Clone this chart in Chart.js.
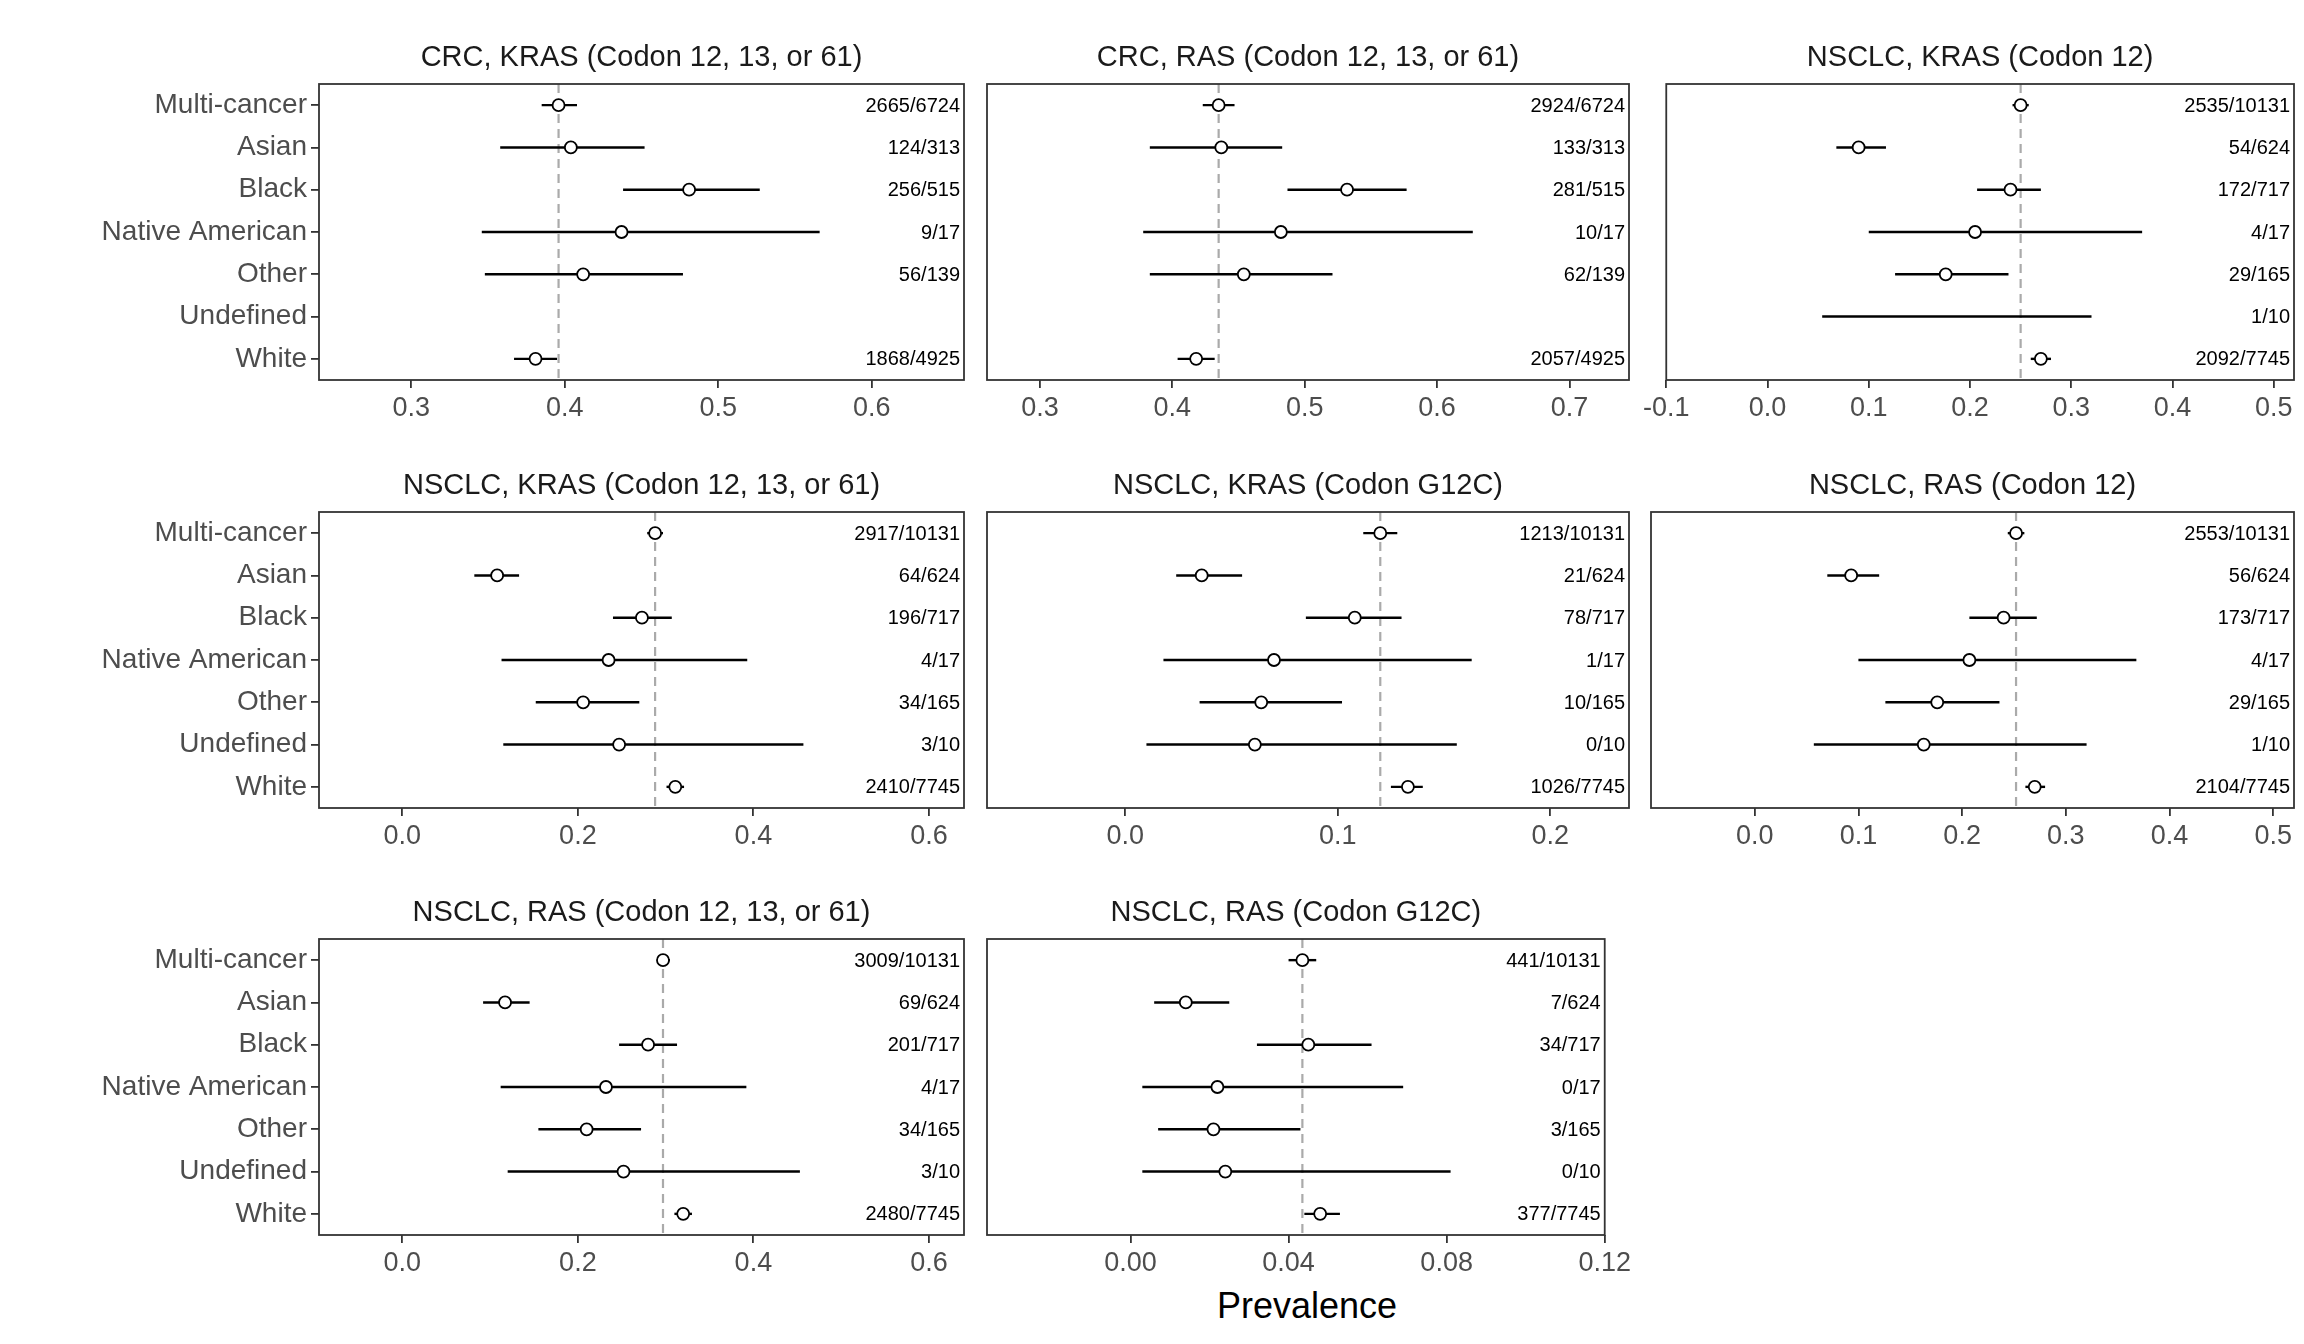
<!DOCTYPE html>
<html>
<head>
<meta charset="UTF-8">
<script src="https://cdn.jsdelivr.net/npm/chart.js@4"></script>
<style>
  body { margin:0; background:#fff; width:2304px; height:1344px; position:relative; font-family:"Liberation Sans", Arial, sans-serif; }
  .box { position:absolute; }
  #xlab { position:absolute; left:1207px; top:1285px; width:200px; text-align:center; font-size:36px; color:#000; }
</style>
</head>
<body>
<div id="xlab">Prevalence</div>
<script>
// categories, top to bottom
const groups = ['Multi-cancer', 'Asian', 'Black', 'Native American', 'Other', 'Undefined', 'White'];

const titles = [
  'CRC, KRAS (Codon 12, 13, or 61)', 'CRC, RAS (Codon 12, 13, or 61)', 'NSCLC, KRAS (Codon 12)',
  'NSCLC, KRAS (Codon 12, 13, or 61)', 'NSCLC, KRAS (Codon G12C)', 'NSCLC, RAS (Codon 12)',
  'NSCLC, RAS (Codon 12, 13, or 61)', 'NSCLC, RAS (Codon G12C)'
];

// point estimates (null = no point drawn)
const est = [
  [0.396, 0.404, 0.481, 0.437, 0.412, null, 0.381],
  [0.435, 0.437, 0.532, 0.482, 0.454, null, 0.418],
  [0.250, 0.090, 0.240, 0.205, 0.176, null, 0.270],
  [0.288, 0.108, 0.273, 0.235, 0.206, 0.247, 0.311],
  [0.120, 0.036, 0.108, 0.070, 0.064, 0.061, 0.133],
  [0.252, 0.093, 0.240, 0.207, 0.176, 0.163, 0.270],
  [0.297, 0.117, 0.280, 0.232, 0.210, 0.252, 0.320],
  [0.0435, 0.014, 0.045, 0.022, 0.021, 0.024, 0.048]
];
const lower = [
  [0.385, 0.358, 0.438, 0.346, 0.348, null, 0.367],
  [0.423, 0.383, 0.487, 0.378, 0.383, null, 0.404],
  [0.242, 0.068, 0.207, 0.100, 0.126, 0.054, 0.260],
  [0.279, 0.082, 0.240, 0.113, 0.152, 0.115, 0.301],
  [0.112, 0.024, 0.085, 0.018, 0.035, 0.010, 0.125],
  [0.244, 0.070, 0.207, 0.100, 0.126, 0.057, 0.261],
  [0.290, 0.092, 0.247, 0.112, 0.155, 0.120, 0.310],
  [0.040, 0.006, 0.032, 0.003, 0.007, 0.003, 0.044]
];
const upper = [
  [0.408, 0.452, 0.527, 0.566, 0.477, null, 0.395],
  [0.447, 0.483, 0.577, 0.627, 0.521, null, 0.432],
  [0.258, 0.117, 0.270, 0.370, 0.238, 0.320, 0.280],
  [0.297, 0.133, 0.307, 0.393, 0.270, 0.457, 0.321],
  [0.128, 0.055, 0.130, 0.163, 0.102, 0.156, 0.140],
  [0.260, 0.120, 0.272, 0.368, 0.236, 0.320, 0.280],
  [0.305, 0.145, 0.313, 0.392, 0.272, 0.453, 0.330],
  [0.047, 0.025, 0.061, 0.069, 0.043, 0.081, 0.053]
];
const counts = [
  ['2665/6724', '124/313', '256/515', '9/17', '56/139', '', '1868/4925'],
  ['2924/6724', '133/313', '281/515', '10/17', '62/139', '', '2057/4925'],
  ['2535/10131', '54/624', '172/717', '4/17', '29/165', '1/10', '2092/7745'],
  ['2917/10131', '64/624', '196/717', '4/17', '34/165', '3/10', '2410/7745'],
  ['1213/10131', '21/624', '78/717', '1/17', '10/165', '0/10', '1026/7745'],
  ['2553/10131', '56/624', '173/717', '4/17', '29/165', '1/10', '2104/7745'],
  ['3009/10131', '69/624', '201/717', '4/17', '34/165', '3/10', '2480/7745'],
  ['441/10131', '7/624', '34/717', '0/17', '3/165', '0/10', '377/7745']
];
const xMin = [0.24, 0.26, -0.1, -0.095, -0.065, -0.1, -0.095, -0.0363];
const xMax = [0.66, 0.745, 0.52, 0.64, 0.237, 0.52, 0.64, 0.12];
const tickVals = [
  [0.3, 0.4, 0.5, 0.6], [0.3, 0.4, 0.5, 0.6, 0.7], [-0.1, 0, 0.1, 0.2, 0.3, 0.4, 0.5],
  [0, 0.2, 0.4, 0.6], [0, 0.1, 0.2], [0, 0.1, 0.2, 0.3, 0.4, 0.5],
  [0, 0.2, 0.4, 0.6], [0, 0.04, 0.08, 0.12]
];
const tickLabels = [
  ['0.3', '0.4', '0.5', '0.6'], ['0.3', '0.4', '0.5', '0.6', '0.7'], ['-0.1', '0.0', '0.1', '0.2', '0.3', '0.4', '0.5'],
  ['0.0', '0.2', '0.4', '0.6'], ['0.0', '0.1', '0.2'], ['0.0', '0.1', '0.2', '0.3', '0.4', '0.5'],
  ['0.0', '0.2', '0.4', '0.6'], ['0.00', '0.04', '0.08', '0.12']
];

// panel geometry (plot area in page pixels)
const colLeft = [319, 987, 1651];
const colWidth = [645, 642, 643];
const rowTop = [84, 512, 939];
const plotH = 296;
const topPad = 70, xAxisH = 52;

const panelPlugin = {
  id: 'panel',
  afterDatasetsDraw(chart, args, opts) {
    const p = opts.idx;
    const ctx = chart.ctx, xs = chart.scales.x, ys = chart.scales.y, a = chart.chartArea;
    ctx.save();
    // dashed reference line at multi-cancer estimate
    ctx.strokeStyle = '#aaaaaa'; ctx.lineWidth = 2.2; ctx.setLineDash([9, 6]);
    ctx.beginPath();
    const rx = xs.getPixelForValue(est[p][0] !== null ? est[p][0] : 0);
    ctx.moveTo(rx, a.top); ctx.lineTo(rx, a.bottom); ctx.stroke();
    ctx.setLineDash([]);
    // error bars
    ctx.strokeStyle = '#000'; ctx.lineWidth = 2.4;
    for (let i = 0; i < groups.length; i++) {
      if (lower[p][i] === null) continue;
      const y = ys.getPixelForValue(i);
      ctx.beginPath();
      ctx.moveTo(xs.getPixelForValue(lower[p][i]), y);
      ctx.lineTo(xs.getPixelForValue(upper[p][i]), y);
      ctx.stroke();
    }
    // points
    ctx.fillStyle = '#fff'; ctx.lineWidth = 1.8;
    for (let i = 0; i < groups.length; i++) {
      if (est[p][i] === null) continue;
      ctx.beginPath();
      ctx.arc(xs.getPixelForValue(est[p][i]), ys.getPixelForValue(i), 6, 0, Math.PI * 2);
      ctx.fill(); ctx.stroke();
    }
    // counts
    ctx.fillStyle = '#000'; ctx.font = '20px "Liberation Sans", Arial, sans-serif';
    ctx.textAlign = 'right'; ctx.textBaseline = 'middle';
    for (let i = 0; i < groups.length; i++) {
      ctx.fillText(counts[p][i], a.right - 4, ys.getPixelForValue(i) + 1);
    }
    // frame
    ctx.strokeStyle = '#333'; ctx.lineWidth = 1.8;
    ctx.strokeRect(a.left, a.top, a.right - a.left, a.bottom - a.top);
    // title
    ctx.fillStyle = '#1a1a1a'; ctx.font = '29px "Liberation Sans", Arial, sans-serif';
    ctx.textAlign = 'center'; ctx.textBaseline = 'bottom';
    ctx.fillText(titles[p], (a.left + a.right) / 2, a.top - 12);
    ctx.restore();
  }
};

for (let p = 0; p < titles.length; p++) {
  const c = p % 3, r = Math.floor(p / 3);
  const leftW = c === 0 ? 319 : 12;
  const div = document.createElement('div');
  div.className = 'box';
  div.style.left = (colLeft[c] - leftW) + 'px';
  div.style.top = (rowTop[r] - topPad) + 'px';
  div.style.width = (colWidth[c] + leftW + 6) + 'px';
  div.style.height = (plotH + topPad + xAxisH) + 'px';
  const cv = document.createElement('canvas');
  div.appendChild(cv);
  document.body.appendChild(div);

  new Chart(cv, {
    type: 'scatter',
    data: { labels: groups, datasets: [{ data: [], pointRadius: 0 }] },
    options: {
      responsive: true, maintainAspectRatio: false, animation: false,
      layout: { padding: { top: topPad, right: 6, left: 0, bottom: 0 } },
      plugins: { legend: { display: false }, tooltip: { enabled: false }, panel: { idx: p } },
      scales: {
        x: {
          type: 'linear', min: xMin[p], max: xMax[p],
          afterBuildTicks(s) { s.ticks = tickVals[p].map(v => ({ value: v })); },
          afterFit(s) { s.height = xAxisH; },
          grid: { drawOnChartArea: false, drawTicks: true, tickLength: 8, color: '#333', lineWidth: 1.8 },
          border: { display: false },
          ticks: {
            color: '#4d4d4d', font: { size: 27, family: '"Liberation Sans", Arial, sans-serif' }, padding: 4,
            maxRotation: 0, autoSkip: false,
            callback(v) { const k = tickVals[p].findIndex(t => Math.abs(t - v) < 1e-9); return k >= 0 ? tickLabels[p][k] : ''; }
          }
        },
        y: {
          type: 'category', labels: groups, offset: true,
          afterFit(s) { s.width = leftW; },
          grid: { display: c === 0, drawOnChartArea: false, drawTicks: true, tickLength: 8, color: '#333', lineWidth: 1.8 },
          border: { display: false },
          ticks: { display: c === 0, color: '#4d4d4d', font: { size: 28, family: '"Liberation Sans", Arial, sans-serif' }, padding: 4 }
        }
      }
    },
    plugins: [panelPlugin]
  });
}
</script>
</body>
</html>
